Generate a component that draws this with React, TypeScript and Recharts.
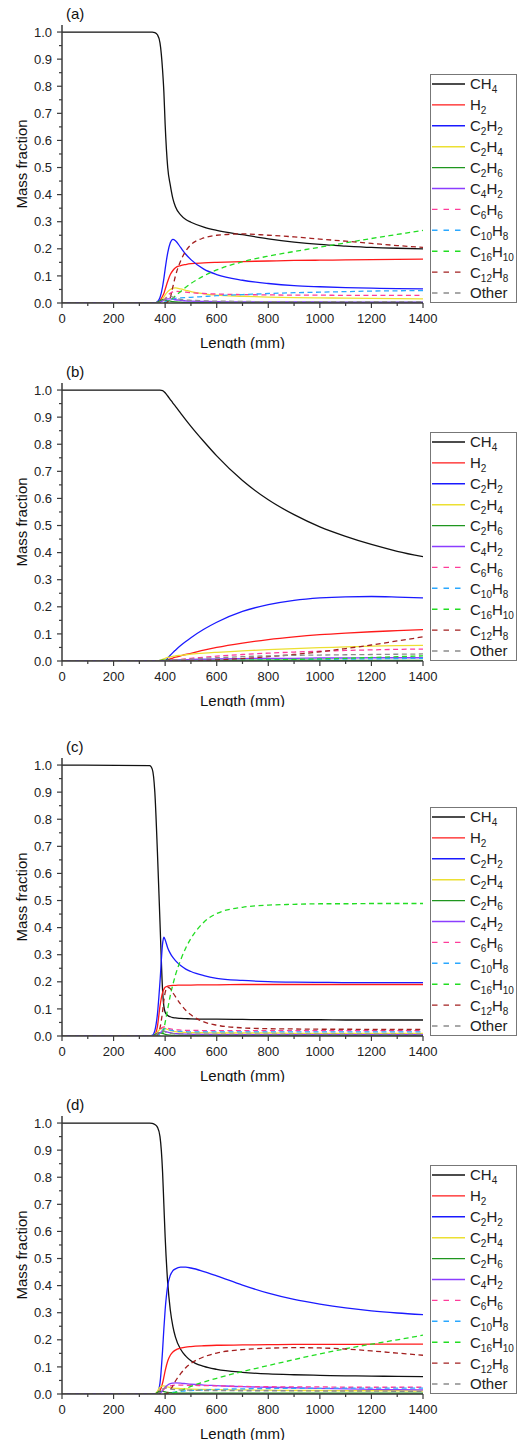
import React from 'react';
import { LineChart, Line, XAxis, YAxis } from 'recharts';

// shared length grid (mm)
const lengths = [0, 340, 350, 360, 370, 380, 390, 395, 400, 410, 420, 430, 440, 460, 480, 500, 550, 600, 700, 800, 900, 1000, 1100, 1200, 1300, 1400];

const xTicks = [0, 100, 200, 300, 400, 500, 600, 700, 800, 900, 1000, 1100, 1200, 1300, 1400];
const yTicks = [0, 0.05, 0.1, 0.15, 0.2, 0.25, 0.3, 0.35, 0.4, 0.45, 0.5, 0.55, 0.6, 0.65, 0.7, 0.75, 0.8, 0.85, 0.9, 0.95, 1.0];

const species = ['CH4', 'H2', 'C2H2', 'C2H4', 'C2H6', 'C4H2', 'C6H6', 'C10H8', 'C16H10', 'C12H8', 'Other'];

// (a)
const aCH4 = [1, 1, 1, 0.998, 0.99, 0.96, 0.86, 0.78, 0.66, 0.5, 0.435, 0.385, 0.355, 0.325, 0.308, 0.298, 0.28, 0.268, 0.252, 0.237, 0.225, 0.216, 0.21, 0.205, 0.202, 0.2];
const aH2 = [0, 0, 0, 0, 0.002, 0.01, 0.025, 0.035, 0.05, 0.08, 0.105, 0.12, 0.13, 0.138, 0.142, 0.145, 0.148, 0.15, 0.153, 0.155, 0.157, 0.158, 0.159, 0.16, 0.161, 0.162];
const aC2H2 = [0, 0, 0, 0, 0.005, 0.02, 0.06, 0.09, 0.125, 0.185, 0.222, 0.235, 0.23, 0.205, 0.18, 0.16, 0.125, 0.105, 0.084, 0.072, 0.064, 0.06, 0.057, 0.055, 0.053, 0.052];
const aC2H4 = [0, 0, 0, 0, 0.002, 0.006, 0.015, 0.022, 0.03, 0.042, 0.05, 0.055, 0.056, 0.052, 0.047, 0.042, 0.034, 0.029, 0.025, 0.022, 0.02, 0.019, 0.018, 0.017, 0.016, 0.015];
const aC2H6 = [0, 0, 0, 0, 0.003, 0.008, 0.012, 0.012, 0.011, 0.009, 0.007, 0.005, 0.004, 0.003, 0.002, 0.002, 0.002, 0.002, 0.002, 0.002, 0.002, 0.002, 0.002, 0.002, 0.002, 0.002];
const aC4H2 = [0, 0, 0, 0, 0, 0.003, 0.008, 0.011, 0.013, 0.015, 0.015, 0.014, 0.012, 0.01, 0.008, 0.007, 0.006, 0.005, 0.004, 0.004, 0.004, 0.004, 0.003, 0.003, 0.003, 0.003];
const aC6H6 = [0, 0, 0, 0, 0, 0, 0.005, 0.01, 0.016, 0.028, 0.036, 0.041, 0.043, 0.042, 0.04, 0.038, 0.035, 0.033, 0.031, 0.03, 0.029, 0.029, 0.028, 0.028, 0.028, 0.028];
const aC10H8 = [0, 0, 0, 0, 0, 0, 0, 0.002, 0.004, 0.008, 0.012, 0.015, 0.017, 0.019, 0.02, 0.021, 0.024, 0.027, 0.031, 0.035, 0.038, 0.04, 0.042, 0.044, 0.045, 0.046];
const aC16H10 = [0, 0, 0, 0, 0, 0, 0, 0, 0, 0.004, 0.01, 0.018, 0.026, 0.042, 0.058, 0.072, 0.1, 0.122, 0.152, 0.173, 0.19, 0.206, 0.222, 0.238, 0.253, 0.268];
const aC12H8 = [0, 0, 0, 0, 0, 0, 0, 0, 0, 0.005, 0.02, 0.06, 0.1, 0.155, 0.192, 0.215, 0.24, 0.25, 0.255, 0.25, 0.244, 0.236, 0.228, 0.22, 0.212, 0.205];
const aOther = [0, 0, 0, 0, 0, 0, 0.005, 0.01, 0.015, 0.022, 0.025, 0.022, 0.018, 0.013, 0.011, 0.01, 0.008, 0.007, 0.006, 0.005, 0.005, 0.005, 0.005, 0.005, 0.005, 0.005];

// (b)
const bCH4 = [1, 1, 1, 1, 1, 1, 0.998, 0.995, 0.99, 0.978, 0.965, 0.952, 0.94, 0.915, 0.89, 0.866, 0.81, 0.757, 0.666, 0.595, 0.54, 0.495, 0.46, 0.43, 0.405, 0.385];
const bH2 = [0, 0, 0, 0, 0, 0, 0, 0, 0, 0.004, 0.008, 0.011, 0.014, 0.019, 0.024, 0.028, 0.04, 0.05, 0.066, 0.079, 0.089, 0.097, 0.103, 0.108, 0.112, 0.116];
const bC2H2 = [0, 0, 0, 0, 0, 0, 0, 0, 0, 0.011, 0.021, 0.031, 0.04, 0.057, 0.072, 0.086, 0.117, 0.143, 0.183, 0.208, 0.224, 0.233, 0.237, 0.238, 0.236, 0.233];
const bC2H4 = [0, 0, 0, 0, 0, 0.002, 0.006, 0.008, 0.01, 0.013, 0.015, 0.017, 0.019, 0.021, 0.023, 0.025, 0.029, 0.032, 0.037, 0.042, 0.046, 0.049, 0.052, 0.055, 0.057, 0.058];
const bC2H6 = [0, 0, 0, 0, 0, 0.002, 0.003, 0.003, 0.003, 0.003, 0.003, 0.003, 0.003, 0.003, 0.003, 0.003, 0.003, 0.003, 0.003, 0.003, 0.003, 0.003, 0.002, 0.002, 0.002, 0.002];
const bC4H2 = [0, 0, 0, 0, 0, 0, 0, 0, 0, 0.001, 0.002, 0.003, 0.003, 0.004, 0.005, 0.006, 0.007, 0.008, 0.009, 0.01, 0.01, 0.011, 0.011, 0.012, 0.012, 0.012];
const bC6H6 = [0, 0, 0, 0, 0, 0, 0, 0, 0, 0.001, 0.002, 0.003, 0.004, 0.006, 0.008, 0.01, 0.014, 0.018, 0.024, 0.029, 0.033, 0.036, 0.039, 0.041, 0.043, 0.044];
const bC10H8 = [0, 0, 0, 0, 0, 0, 0, 0, 0, 0, 0, 0, 0, 0, 0.001, 0.001, 0.001, 0.002, 0.003, 0.004, 0.005, 0.006, 0.007, 0.008, 0.009, 0.01];
const bC16H10 = [0, 0, 0, 0, 0, 0, 0, 0, 0, 0, 0, 0, 0, 0, 0, 0, 0, 0.001, 0.002, 0.004, 0.006, 0.008, 0.01, 0.013, 0.016, 0.019];
const bC12H8 = [0, 0, 0, 0, 0, 0, 0, 0, 0, 0, 0, 0, 0, 0, 0, 0, 0.002, 0.004, 0.009, 0.016, 0.024, 0.034, 0.046, 0.059, 0.074, 0.089];
const bOther = [0, 0, 0, 0, 0, 0, 0, 0, 0, 0.001, 0.002, 0.003, 0.004, 0.005, 0.006, 0.007, 0.01, 0.012, 0.016, 0.019, 0.021, 0.022, 0.023, 0.024, 0.025, 0.026];

// (c)
const cCH4 = [1, 0.998, 0.985, 0.9, 0.68, 0.42, 0.17, 0.11, 0.088, 0.076, 0.071, 0.068, 0.067, 0.065, 0.064, 0.063, 0.062, 0.062, 0.061, 0.06, 0.06, 0.06, 0.059, 0.059, 0.059, 0.059];
const cH2 = [0, 0, 0, 0.005, 0.035, 0.11, 0.16, 0.172, 0.18, 0.184, 0.186, 0.187, 0.187, 0.188, 0.188, 0.188, 0.189, 0.189, 0.19, 0.19, 0.19, 0.19, 0.19, 0.19, 0.19, 0.19];
const cC2H2 = [0, 0, 0.002, 0.02, 0.08, 0.2, 0.34, 0.365, 0.355, 0.325, 0.305, 0.29, 0.278, 0.26, 0.247, 0.238, 0.223, 0.213, 0.205, 0.201, 0.199, 0.198, 0.197, 0.197, 0.197, 0.197];
const cC2H4 = [0, 0, 0, 0.005, 0.015, 0.025, 0.03, 0.03, 0.028, 0.024, 0.02, 0.018, 0.016, 0.014, 0.013, 0.012, 0.012, 0.011, 0.011, 0.011, 0.01, 0.01, 0.01, 0.01, 0.01, 0.01];
const cC2H6 = [0, 0, 0, 0.005, 0.01, 0.012, 0.01, 0.008, 0.006, 0.004, 0.003, 0.002, 0.002, 0.002, 0.002, 0.002, 0.002, 0.002, 0.002, 0.002, 0.002, 0.002, 0.002, 0.002, 0.002, 0.002];
const cC4H2 = [0, 0, 0, 0, 0.005, 0.012, 0.017, 0.018, 0.017, 0.014, 0.012, 0.01, 0.009, 0.008, 0.007, 0.006, 0.006, 0.005, 0.005, 0.005, 0.005, 0.005, 0.005, 0.005, 0.005, 0.005];
const cC6H6 = [0, 0, 0, 0, 0.008, 0.022, 0.032, 0.034, 0.033, 0.029, 0.026, 0.024, 0.023, 0.022, 0.021, 0.021, 0.02, 0.02, 0.02, 0.02, 0.02, 0.02, 0.02, 0.02, 0.02, 0.02];
const cC10H8 = [0, 0, 0, 0, 0, 0.01, 0.022, 0.026, 0.027, 0.025, 0.022, 0.02, 0.018, 0.017, 0.016, 0.015, 0.015, 0.015, 0.015, 0.015, 0.015, 0.015, 0.015, 0.015, 0.015, 0.015];
const cC16H10 = [0, 0, 0, 0, 0, 0, 0.01, 0.025, 0.05, 0.1, 0.15, 0.19, 0.225, 0.28, 0.325, 0.36, 0.42, 0.452, 0.475, 0.483, 0.486, 0.488, 0.488, 0.489, 0.489, 0.489];
const cC12H8 = [0, 0, 0, 0, 0.005, 0.03, 0.09, 0.13, 0.16, 0.18, 0.175, 0.16, 0.145, 0.118, 0.095, 0.078, 0.052, 0.04, 0.03, 0.027, 0.026, 0.025, 0.025, 0.024, 0.024, 0.024];
const cOther = [0, 0, 0, 0, 0.008, 0.018, 0.02, 0.018, 0.015, 0.012, 0.01, 0.009, 0.008, 0.008, 0.008, 0.007, 0.007, 0.007, 0.007, 0.007, 0.007, 0.007, 0.007, 0.007, 0.007, 0.007];

// (d)
const dCH4 = [1, 1, 0.999, 0.995, 0.985, 0.95, 0.82, 0.7, 0.58, 0.41, 0.31, 0.25, 0.21, 0.165, 0.14, 0.123, 0.102, 0.091, 0.08, 0.074, 0.071, 0.069, 0.067, 0.066, 0.065, 0.064];
const dH2 = [0, 0, 0, 0, 0.003, 0.012, 0.04, 0.062, 0.085, 0.122, 0.143, 0.155, 0.162, 0.169, 0.173, 0.175, 0.178, 0.18, 0.181, 0.182, 0.183, 0.183, 0.183, 0.184, 0.184, 0.184];
const dC2H2 = [0, 0, 0, 0, 0.005, 0.04, 0.16, 0.24, 0.31, 0.4, 0.438, 0.455, 0.462, 0.468, 0.468, 0.465, 0.452, 0.436, 0.402, 0.372, 0.349, 0.332, 0.318, 0.307, 0.299, 0.293];
const dC2H4 = [0, 0, 0, 0, 0.01, 0.025, 0.03, 0.03, 0.029, 0.026, 0.024, 0.022, 0.021, 0.02, 0.019, 0.018, 0.017, 0.016, 0.015, 0.014, 0.013, 0.013, 0.012, 0.012, 0.012, 0.011];
const dC2H6 = [0, 0, 0, 0, 0.006, 0.01, 0.01, 0.009, 0.008, 0.006, 0.005, 0.004, 0.004, 0.003, 0.003, 0.003, 0.003, 0.003, 0.003, 0.003, 0.003, 0.003, 0.003, 0.003, 0.003, 0.003];
const dC4H2 = [0, 0, 0, 0, 0, 0.003, 0.012, 0.018, 0.025, 0.033, 0.038, 0.04, 0.041, 0.04, 0.038, 0.036, 0.033, 0.031, 0.027, 0.025, 0.023, 0.021, 0.019, 0.017, 0.016, 0.015];
const dC6H6 = [0, 0, 0, 0, 0, 0.004, 0.012, 0.017, 0.021, 0.027, 0.03, 0.032, 0.033, 0.033, 0.032, 0.032, 0.031, 0.03, 0.028, 0.027, 0.026, 0.026, 0.025, 0.025, 0.025, 0.025];
const dC10H8 = [0, 0, 0, 0, 0, 0, 0, 0, 0, 0.002, 0.004, 0.006, 0.008, 0.01, 0.012, 0.013, 0.015, 0.017, 0.019, 0.02, 0.021, 0.021, 0.022, 0.022, 0.022, 0.022];
const dC16H10 = [0, 0, 0, 0, 0, 0, 0, 0, 0, 0, 0, 0.003, 0.006, 0.012, 0.02, 0.028, 0.044, 0.058, 0.083, 0.105, 0.127, 0.148, 0.167, 0.184, 0.2, 0.217];
const dC12H8 = [0, 0, 0, 0, 0, 0, 0, 0, 0, 0.004, 0.015, 0.03, 0.048, 0.075, 0.097, 0.113, 0.137, 0.151, 0.164, 0.169, 0.171, 0.17, 0.166, 0.159, 0.151, 0.143];
const dOther = [0, 0, 0, 0, 0, 0.008, 0.018, 0.021, 0.022, 0.021, 0.019, 0.017, 0.016, 0.015, 0.014, 0.014, 0.013, 0.013, 0.012, 0.012, 0.012, 0.011, 0.011, 0.011, 0.01, 0.01];

const panelA = [aCH4, aH2, aC2H2, aC2H4, aC2H6, aC4H2, aC6H6, aC10H8, aC16H10, aC12H8, aOther];
const panelB = [bCH4, bH2, bC2H2, bC2H4, bC2H6, bC4H2, bC6H6, bC10H8, bC16H10, bC12H8, bOther];
const panelC = [cCH4, cH2, cC2H2, cC2H4, cC2H6, cC4H2, cC6H6, cC10H8, cC16H10, cC12H8, cOther];
const panelD = [dCH4, dH2, dC2H2, dC2H4, dC2H6, dC4H2, dC6H6, dC10H8, dC16H10, dC12H8, dOther];

// styles
const colors = ['#111111', '#ff1a1a', '#1a1aff', '#ece032', '#1f961f', '#8b3dff', '#ff3c9a', '#2aa8ff', '#22dd22', '#a32020', '#8c8c8c'];
const dashed = [false, false, false, false, false, false, true, true, true, true, true];

const FONT = 'Arial, "Liberation Sans", Helvetica, sans-serif';
const AXIS = '#3a3a3a';
const PLOT_H = 278;
const MARGIN_TOP = 20;

function formula(name: string) {
  const parts = name.match(/\d+|\D+/g) || [];
  let down = false;
  return parts.map((p, i) => {
    const isNum = /^\d+$/.test(p);
    let dy = 0;
    if (isNum && !down) { dy = 4; down = true; }
    else if (!isNum && down) { dy = -4; down = false; }
    return (
      <tspan key={i} dy={dy} fontSize={isNum ? 10 : 15}>{p}</tspan>
    );
  });
}

const XTick = (props: any) => {
  const { x, y, payload } = props;
  const major = payload.value % 200 === 0;
  return (
    <g>
      <line x1={x} x2={x} y1={y} y2={y + (major ? 5 : 3)} stroke={AXIS} strokeWidth={1.2} />
      {major && (
        <text x={x} y={y + 20} textAnchor="middle" fontSize={13} fill="#222" fontFamily={FONT}>
          {payload.value}
        </text>
      )}
    </g>
  );
};

const YTick = (props: any) => {
  const { x, y, payload } = props;
  const major = Math.round(payload.value * 100) % 10 === 0;
  return (
    <g>
      <line x1={x} x2={x - (major ? 5 : 3)} y1={y} y2={y} stroke={AXIS} strokeWidth={1.2} />
      {major && (
        <text x={x - 10} y={y + 4.6} textAnchor="end" fontSize={13} fill="#222" fontFamily={FONT}>
          {payload.value.toFixed(1)}
        </text>
      )}
    </g>
  );
};

const XLabel = () => (
  <text x={242.5} y={MARGIN_TOP + PLOT_H + 44.5} textAnchor="middle" fontSize={15} fill="#111" fontFamily={FONT}>
    Length (mm)
  </text>
);

const YLabel = () => {
  const cx = 22;
  const cy = MARGIN_TOP + PLOT_H / 2;
  return (
    <text x={cx} y={cy + 5} transform={`rotate(-90, ${cx}, ${cy})`} textAnchor="middle" fontSize={15} fill="#111" fontFamily={FONT}>
      Mass fraction
    </text>
  );
};

function LegendBox({ top }: { top: number }) {
  return (
    <div
      style={{
        position: 'absolute', left: 430, top, width: 87, height: 229,
        border: '1px solid #777', boxSizing: 'border-box', background: '#fff',
      }}
    >
      <svg width={85} height={227} style={{ display: 'block' }}>
        {species.map((s, k) => {
          const cy = 9 + k * 20.9;
          return (
            <g key={s}>
              <line x1={1} x2={34} y1={cy} y2={cy} stroke={colors[k]} strokeWidth={1.4}
                strokeDasharray={dashed[k] ? '5.5 6' : undefined} />
              <text x={39} y={cy + 5.4} fontSize={15} fill="#222" fontFamily={FONT}>
                {formula(s)}
              </text>
            </g>
          );
        })}
      </svg>
    </div>
  );
}

function Panel({ tag, plotTop, series }: { tag: string; plotTop: number; series: number[][] }) {
  const data = lengths.map((x, i) => {
    const row: Record<string, number> = { x };
    species.forEach((s, k) => { row[s] = series[k][i]; });
    return row;
  });

  return (
    <>
      <div style={{ position: 'absolute', left: 0, top: plotTop - MARGIN_TOP }}>
        <LineChart width={519} height={MARGIN_TOP + PLOT_H + 46} data={data}
          margin={{ top: MARGIN_TOP, right: 96, bottom: 0, left: 0 }}>
          <XAxis dataKey="x" type="number" domain={[0, 1400]} ticks={xTicks} interval={0}
            allowDataOverflow tick={<XTick />} tickLine={false} tickSize={0} tickMargin={0}
            height={46} axisLine={{ stroke: AXIS, strokeWidth: 1.5 }} label={<XLabel />} />
          <XAxis xAxisId="top" orientation="top" type="number" domain={[0, 1400]} height={0}
            tick={false} tickLine={false} axisLine={{ stroke: AXIS, strokeWidth: 1.5 }} />
          <YAxis type="number" domain={[0, 1.026]} ticks={yTicks} interval={0} allowDataOverflow
            tick={<YTick />} tickLine={false} tickSize={0} tickMargin={0} width={62}
            axisLine={{ stroke: AXIS, strokeWidth: 1.5 }} label={<YLabel />} />
          <YAxis yAxisId="right" orientation="right" type="number" domain={[0, 1.026]} width={0}
            tick={false} tickLine={false} axisLine={{ stroke: AXIS, strokeWidth: 1.5 }} />
          {species.map((s, k) => (
            <Line key={s} dataKey={s} type="monotone" stroke={colors[k]} strokeWidth={1.3}
              strokeDasharray={dashed[k] ? '5 3.5' : undefined} dot={false} activeDot={false}
              isAnimationActive={false} />
          ))}
        </LineChart>
      </div>
      <div style={{ position: 'absolute', left: 66, top: plotTop - 20, fontSize: 15, lineHeight: '18px', fontFamily: FONT, color: '#111' }}>
        {tag}
      </div>
      <LegendBox top={plotTop + PLOT_H - 229} />
    </>
  );
}

export default function App() {
  return (
    <div style={{ position: 'absolute', left: 0, top: 0, width: 519, height: 1442, background: '#fff', fontFamily: FONT, overflow: 'hidden' }}>
      <Panel tag="(a)" plotTop={25} series={panelA} />
      <Panel tag="(b)" plotTop={383} series={panelB} />
      <Panel tag="(c)" plotTop={758} series={panelC} />
      <Panel tag="(d)" plotTop={1116} series={panelD} />
    </div>
  );
}
